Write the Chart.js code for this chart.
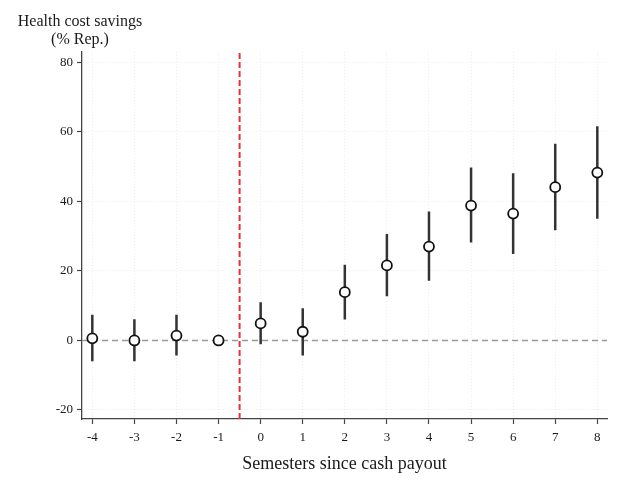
<!DOCTYPE html>
<html>
<head>
<meta charset="utf-8">
<script src="https://cdn.jsdelivr.net/npm/chart.js@4"></script>
<style>
  html, body { margin: 0; padding: 0; background: #fff; }
  #wrap { width: 621px; height: 485px; }
</style>
</head>
<body>
<div id="wrap"><canvas id="c" width="621" height="485"></canvas></div>
<script>
// Event-study estimates: health cost savings (% of reported) by semester
const semesters = [-4, -3, -2, -1, 0, 1, 2, 3, 4, 5, 6, 7, 8];
const estimates = [0.6, 0.0, 1.4, 0.0, 4.9, 2.5, 13.9, 21.6, 27.0, 38.8, 36.5, 44.1, 48.3];
const ciLower   = [-6.0, -6.0, -4.3, null, -1.1, -4.3, 6.0, 12.7, 17.2, 28.2, 24.9, 31.7, 35.0];
const ciUpper   = [7.4, 6.1, 7.4, null, 11.0, 9.3, 21.8, 30.6, 37.1, 49.8, 48.1, 56.6, 61.6];
const yTicks = [-20, 0, 20, 40, 60, 80];
const xTicks = semesters;
const payoutAt = -0.5;
const yTitleLines = ['Health cost savings', '(% Rep.)'];
const xTitle = 'Semesters since cash payout';

const X_MIN = -4.245, X_MAX = 8.23, Y_MIN = -22.6, Y_MAX = 83;

// confidence-interval segments, separated by gaps
const ciSegments = [];
semesters.forEach((s, i) => {
  if (ciLower[i] === null) return;
  ciSegments.push({ x: s, y: ciLower[i] }, { x: s, y: ciUpper[i] }, { x: s, y: null });
});

const serif = '"Liberation Serif", "Times New Roman", serif';

const yTitlePlugin = {
  id: 'yTitleTop',
  afterDraw(chart) {
    const ctx = chart.ctx;
    ctx.save();
    ctx.font = '16px ' + serif;
    ctx.fillStyle = '#1a1a1a';
    ctx.textAlign = 'center';
    ctx.textBaseline = 'middle';
    ctx.fillText(yTitleLines[0], 80, 22);
    ctx.fillText(yTitleLines[1], 80, 40);
    ctx.restore();
  }
};

new Chart(document.getElementById('c'), {
  type: 'scatter',
  data: {
    datasets: [
      {
        type: 'scatter',
        data: semesters.map((s, i) => ({ x: s, y: estimates[i] })),
        pointRadius: 5,
        pointBackgroundColor: '#fff',
        pointBorderColor: '#111',
        pointBorderWidth: 1.8,
        order: 0
      },
      {
        type: 'line',
        data: ciSegments,
        borderColor: '#333',
        borderWidth: 2.5,
        pointRadius: 0,
        spanGaps: false,
        order: 1
      },
      {
        type: 'line',
        data: [{ x: X_MIN, y: 0 }, { x: X_MAX, y: 0 }],
        borderColor: '#9a9a9a',
        borderWidth: 1.4,
        borderDash: [6, 4],
        pointRadius: 0,
        order: 2
      },
      {
        type: 'line',
        data: [{ x: payoutAt, y: Y_MIN }, { x: payoutAt, y: Y_MAX }],
        borderColor: '#e8303c',
        borderWidth: 2,
        borderDash: [6, 3],
        pointRadius: 0,
        order: 2
      }
    ]
  },
  options: {
    responsive: false,
    animation: false,
    layout: { padding: { top: 52, right: 14, left: 0, bottom: 0 } },
    plugins: { legend: { display: false }, tooltip: { enabled: false } },
    scales: {
      x: {
        type: 'linear',
        min: X_MIN,
        max: X_MAX,
        afterBuildTicks: (axis) => { axis.ticks = xTicks.map(v => ({ value: v })); },
        afterFit: (axis) => { axis.height = 66; },
        ticks: {
          font: { family: serif, size: 13 },
          color: '#1a1a1a',
          padding: 6,
          maxRotation: 0
        },
        grid: {
          color: 'rgba(0,0,0,0.07)',
          tickColor: '#444',
          tickLength: 5,
          tickWidth: 1.2
        },
        border: { color: '#444', width: 1.3, dash: [1, 2] },
        title: {
          display: true,
          text: xTitle,
          font: { family: serif, size: 18 },
          color: '#1a1a1a',
          padding: { top: 10, bottom: 10 }
        }
      },
      y: {
        type: 'linear',
        min: Y_MIN,
        max: Y_MAX,
        afterBuildTicks: (axis) => { axis.ticks = yTicks.map(v => ({ value: v })); },
        afterFit: (axis) => { axis.width = 82; },
        ticks: {
          font: { family: serif, size: 13 },
          color: '#1a1a1a',
          padding: 4
        },
        grid: {
          color: 'rgba(0,0,0,0.07)',
          tickColor: '#444',
          tickLength: 5,
          tickWidth: 1.2
        },
        border: { color: '#444', width: 1.3, dash: [1, 2] }
      }
    }
  },
  plugins: [yTitlePlugin]
});
</script>
</body>
</html>
